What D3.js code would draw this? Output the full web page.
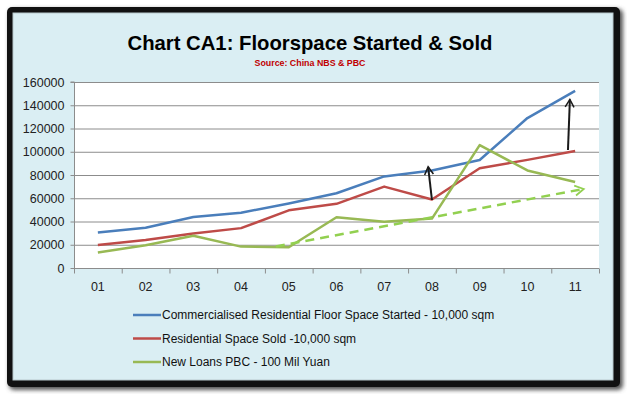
<!DOCTYPE html>
<html>
<head>
<meta charset="utf-8">
<script src="https://cdn.jsdelivr.net/npm/d3@7"></script>
<style>
  html, body { margin: 0; padding: 0; background: #fff; }
  svg { display: block; font-family: "Liberation Sans", Arial, sans-serif; }
</style>
</head>
<body>
<svg id="chart" width="627" height="394"></svg>
<script>
// data
const years = ["01", "02", "03", "04", "05", "06", "07", "08", "09", "10", "11"];
const started = [30600, 34600, 43900, 47600, 55500, 64300, 78800, 83900, 92900, 129000, 152300];
const sold = [19800, 24100, 29700, 34300, 49600, 55200, 70000, 58900, 85800, 93000, 100600];
const loans = [13300, 19500, 27800, 18400, 17800, 43600, 39700, 42500, 105700, 83900, 74000];
const yTicks = [0, 20000, 40000, 60000, 80000, 100000, 120000, 140000, 160000];

// annotation arrows: [category index, value]
const trendArrow = [[3.73, 18500], [10.18, 68000]];
const upArrows = [
  [[7.0, 58500], [6.92, 87000]],
  [[9.85, 101500], [9.89, 145000]]
];

const series = [
  { name: "Commercialised Residential Floor Space Started - 10,000 sqm", values: started, color: "#4a7ebb" },
  { name: "Residential Space Sold -10,000 sqm", values: sold, color: "#be4b48" },
  { name: "New Loans PBC - 100 Mil Yuan", values: loans, color: "#98b954" }
];

const svg = d3.select("#chart");
const plot = { left: 74, right: 599, top: 82, bottom: 268 };

const defs = svg.append("defs");
defs.append("filter").attr("id", "shadow")
    .attr("x", "-5%").attr("y", "-5%").attr("width", "110%").attr("height", "110%")
  .append("feGaussianBlur").attr("stdDeviation", 2);

function arrowMarker(id, color, size) {
  defs.append("marker")
      .attr("id", id)
      .attr("viewBox", "0 0 10 10")
      .attr("refX", 8).attr("refY", 5)
      .attr("markerWidth", size).attr("markerHeight", size)
      .attr("markerUnits", "strokeWidth")
      .attr("orient", "auto")
    .append("path")
      .attr("d", "M1,1 L8,5 L1,9")
      .attr("fill", "none")
      .attr("stroke", color)
      .attr("stroke-width", 1.4);
}
arrowMarker("arrow-black", "#1a1a1a", 5.5);
arrowMarker("arrow-green", "#92d050", 5);

// frame
svg.append("rect")
    .attr("x", 9).attr("y", 9).attr("width", 614).attr("height", 381)
    .attr("rx", 5).attr("fill", "#555").attr("filter", "url(#shadow)");
svg.append("rect")
    .attr("x", 7).attr("y", 7).attr("width", 613).attr("height", 380)
    .attr("rx", 5).attr("fill", "#111");
svg.append("rect")
    .attr("x", 13).attr("y", 13).attr("width", 600).attr("height", 367)
    .attr("fill", "#daeef3").attr("stroke", "#b8c8cc").attr("stroke-width", 1);

// titles
svg.append("text")
    .attr("x", 310).attr("y", 50)
    .attr("text-anchor", "middle")
    .attr("font-size", 21).attr("font-weight", "bold")
    .attr("textLength", 365).attr("lengthAdjust", "spacingAndGlyphs")
    .attr("fill", "#000")
    .text("Chart CA1: Floorspace Started & Sold");
svg.append("text")
    .attr("x", 310).attr("y", 66)
    .attr("text-anchor", "middle")
    .attr("font-size", 9).attr("font-weight", "bold")
    .attr("textLength", 111).attr("lengthAdjust", "spacingAndGlyphs")
    .attr("fill", "#c00000")
    .text("Source: China NBS & PBC");

// scales
const xIdx = d3.scaleLinear().domain([-0.5, years.length - 0.5]).range([plot.left, plot.right]);
const xBand = d3.scaleBand().domain(years).range([plot.left, plot.right]);
const y = d3.scaleLinear().domain([0, 160000]).range([plot.bottom, plot.top]);

svg.append("rect")
    .attr("x", plot.left).attr("y", plot.top)
    .attr("width", plot.right - plot.left).attr("height", plot.bottom - plot.top)
    .attr("fill", "#fff");

// gridlines
svg.append("g")
  .selectAll("line")
  .data(yTicks.slice(1))
  .join("line")
    .attr("x1", plot.left).attr("x2", plot.right)
    .attr("y1", d => y(d) + 0.5).attr("y2", d => y(d) + 0.5)
    .attr("stroke", "#8c8c8c");

// y axis
const yAxis = svg.append("g")
    .attr("transform", `translate(${plot.left + 0.5},0)`)
    .call(d3.axisLeft(y).tickValues(yTicks).tickSize(4).tickPadding(6).tickFormat(d3.format("d")));
yAxis.select(".domain").attr("stroke", "#8c8c8c").attr("d", `M-4,${plot.top}H0V${plot.bottom}`);
yAxis.selectAll(".tick line").attr("stroke", "#8c8c8c");
yAxis.selectAll(".tick text")
    .attr("font-size", 12.5).attr("fill", "#222")
    .attr("font-family", "Liberation Sans, Arial, sans-serif");

// x axis: tick marks at category boundaries, labels at centres
const xTickMarks = svg.append("g")
    .attr("transform", `translate(0,${plot.bottom + 0.5})`)
    .call(d3.axisBottom(xIdx).tickValues(d3.range(-0.5, years.length, 1)).tickSize(5).tickFormat(""));
xTickMarks.select(".domain").attr("stroke", "#8c8c8c").attr("d", `M${plot.left},0H${plot.right}`);
xTickMarks.selectAll(".tick line").attr("stroke", "#8c8c8c");

const xAxis = svg.append("g")
    .attr("transform", `translate(0,${plot.bottom})`)
    .call(d3.axisBottom(xBand).tickSize(0).tickPadding(14));
xAxis.select(".domain").remove();
xAxis.selectAll(".tick text")
    .attr("font-size", 12.5).attr("fill", "#222")
    .attr("font-family", "Liberation Sans, Arial, sans-serif");

// series lines
const line = d3.line()
    .x((d, i) => xIdx(i))
    .y(d => y(d));

svg.append("g")
  .selectAll("path")
  .data(series)
  .join("path")
    .attr("d", d => line(d.values))
    .attr("fill", "none")
    .attr("stroke", d => d.color)
    .attr("stroke-width", 2.5)
    .attr("stroke-linejoin", "round");

// annotation arrows
const arrowLine = d3.line()
    .x(d => xIdx(d[0]))
    .y(d => y(d[1]));

svg.append("path")
    .attr("d", arrowLine(trendArrow))
    .attr("fill", "none")
    .attr("stroke", "#92d050")
    .attr("stroke-width", 2.5)
    .attr("stroke-dasharray", "9,6")
    .attr("marker-end", "url(#arrow-green)");

svg.append("g")
  .selectAll("path")
  .data(upArrows)
  .join("path")
    .attr("d", d => arrowLine(d))
    .attr("fill", "none")
    .attr("stroke", "#1a1a1a")
    .attr("stroke-width", 2)
    .attr("marker-end", "url(#arrow-black)");

// legend
const legend = svg.append("g")
  .selectAll("g")
  .data(series)
  .join("g")
    .attr("transform", (d, i) => `translate(133,${315 + i * 23.5})`);

legend.append("line")
    .attr("x1", 0).attr("x2", 28)
    .attr("stroke", d => d.color)
    .attr("stroke-width", 2.5);

legend.append("text")
    .attr("x", 29).attr("dy", "0.35em")
    .attr("font-size", 12).attr("fill", "#111")
    .text(d => d.name);
</script>
</body>
</html>
